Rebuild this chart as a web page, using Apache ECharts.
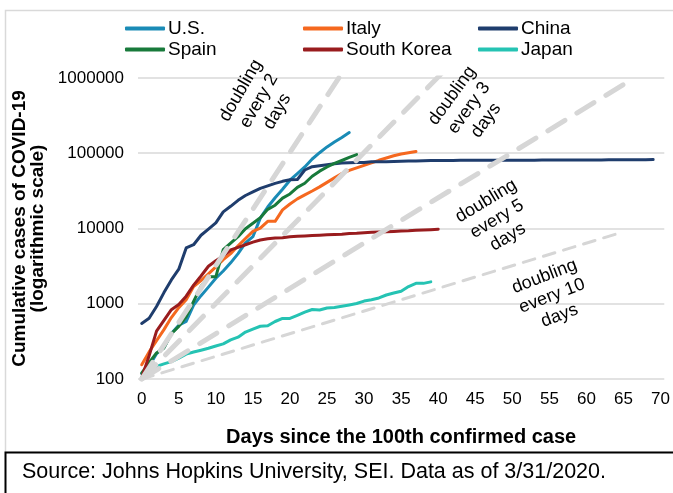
<!DOCTYPE html>
<html>
<head>
<meta charset="utf-8">
<script src="https://cdn.jsdelivr.net/npm/echarts@6/dist/echarts.min.js"></script>
<style>
  html, body { margin: 0; padding: 0; background: #ffffff; }
  #chart { width: 673px; height: 493px; }
</style>
</head>
<body>
<div id="chart"></div>
<script>
// ---- Data ----
const dayLabels = Array.from({ length: 71 }, (_, i) => String(i));

const usCases = [118,149,217,262,402,518,583,959,1281,1663,2179,2727,3499,4632,6421,7783,13747,19273,25600,33276,43847,53740,65778,83836,101657,121478,140886,161807,188172];
const italyCases = [155,229,322,453,655,888,1128,1694,2036,2502,3089,3858,4636,5883,7375,9172,10149,12462,12462,17660,21157,24747,27980,31506,35713,41035,47021,53578,59138,63927,69176,74386,80589,86498,92472,97689,101739,105792];
const chinaCases = [548,643,920,1406,2075,2877,5509,6087,8141,9802,11891,16630,19716,23707,27440,30587,34110,36814,39829,42354,44386,44759,59895,66358,68413,70513,72434,74211,74619,75077,75550,77001,77022,77241,77754,78166,78600,78928,79356,79932,80136,80261,80386,80537,80690,80770,80823,80860,80887,80921,80932,80945,80977,81003,81033,81058,81102,81156,81250,81305,81435,81498,81591,81661,81782,81897,81999,82122,82198,82279];
const spainCases = [120,165,222,259,400,500,673,1073,1695,2277,2277,5232,6391,7798,9942,11748,13910,17963,20410,25374,28768,35136,39885,49515,57786,65719,73235,80110,87956,95923];
const koreaCases = [104,204,433,602,833,977,1261,1766,2337,3150,3736,4335,5186,5621,6088,6593,7041,7314,7478,7513,7755,7869,7979,8086,8162,8236,8320,8413,8565,8652,8799,8897,8961,9037,9137,9241,9332,9478,9583,9661,9786];
const japanCases = [105,122,147,159,170,189,214,228,241,256,274,293,331,360,420,461,502,511,581,639,639,701,773,839,825,878,889,924,963,1007,1086,1128,1193,1307,1387,1468,1693,1866,1866,1953];

// Reference "doubling" guide lines: [day, cases] end points
const doubling2 = [[0, 100], [28, 1638400]];
const doubling3 = [[0, 100], [42, 1638400]];
const doubling5 = [[0, 100], [65, 819200]];
const doubling10 = [[0, 100], [65, 9051]];

const yTicks = [100, 1000, 10000, 100000, 1000000];
const seriesNames = ['U.S.', 'Italy', 'China', 'Spain', 'South Korea', 'Japan'];
const seriesColors = ['#1a8bb6', '#f5681f', '#1f3d6d', '#187a3b', '#991c1e', '#25c3b3'];
const seriesData = [usCases, italyCases, chinaCases, spainCases, koreaCases, japanCases];

const annotations = [
  { text: 'doubling\nevery 2\ndays', x: 259, y: 101, angle: 60 },
  { text: 'doubling\nevery 3\ndays', x: 469, y: 108, angle: 54 },
  { text: 'doubling\nevery 5\ndays', x: 497, y: 219, angle: 31 },
  { text: 'doubling\nevery 10\ndays', x: 552, y: 296, angle: 21 }
];

// ---- Chart ----
const chart = echarts.init(document.getElementById('chart'), null, { renderer: 'canvas' });
const FONT = 'Arial, "Liberation Sans", Helvetica, sans-serif';

const countrySeries = seriesNames.map((name, i) => ({
  name: name,
  type: 'line',
  data: seriesData[i],
  showSymbol: false,
  symbol: 'none',
  lineStyle: { color: seriesColors[i], width: 3, cap: 'round', join: 'round' },
  itemStyle: { color: seriesColors[i] },
  z: 2,
  silent: true,
  animation: false
}));

function guide(data, width, dash) {
  return {
    type: 'line',
    data: data,
    symbol: 'none',
    clip: true,
    lineStyle: { color: '#d6d6d6', width: width, type: dash, cap: 'round' },
    z: 3,
    silent: true,
    animation: false
  };
}

const legendBase = {
  orient: 'vertical',
  top: 19,
  itemWidth: 40,
  itemHeight: 4,
  itemGap: 2,
  icon: 'roundRect',
  padding: 0,
  textStyle: { fontSize: 19, color: '#000', fontFamily: FONT, padding: [0, 0, 0, -2] }
};

chart.setOption({
  animation: false,
  backgroundColor: '#ffffff',
  grid: { left: 138, right: 5, top: 78, bottom: 114 },
  legend: [
    Object.assign({}, legendBase, { left: 125, data: ['U.S.', 'Spain'] }),
    Object.assign({}, legendBase, { left: 303, data: ['Italy', 'South Korea'] }),
    Object.assign({}, legendBase, { left: 478, data: ['China', 'Japan'] })
  ],
  xAxis: {
    type: 'category',
    data: dayLabels,
    boundaryGap: true,
    axisLine: { show: false },
    axisTick: { show: false },
    axisLabel: { interval: 4, fontSize: 17, color: '#000', fontFamily: FONT, margin: 12 },
    splitLine: { show: false },
    name: 'Days since the 100th confirmed case',
    nameLocation: 'middle',
    nameGap: 48,
    nameTextStyle: { fontSize: 20, fontWeight: 'bold', color: '#000', fontFamily: FONT }
  },
  yAxis: {
    type: 'log',
    logBase: 10,
    min: yTicks[0],
    max: yTicks[yTicks.length - 1],
    axisLine: { show: false },
    axisTick: { show: false },
    axisLabel: { fontSize: 17, color: '#000', fontFamily: FONT, margin: 14, formatter: v => String(Math.round(v)) },
    splitLine: { show: true, lineStyle: { color: '#d9d9d9', width: 1.5 } },
    name: 'Cumulative cases of COVID-19\n(logarithmic scale)',
    nameLocation: 'middle',
    nameRotate: 90,
    nameGap: 90,
    nameTextStyle: { fontSize: 19, fontWeight: 'bold', color: '#000', fontFamily: FONT, lineHeight: 18 }
  },
  series: countrySeries.concat([
    guide(doubling2, 5, [20, 14]),
    guide(doubling3, 5, [20, 14]),
    guide(doubling5, 5, [20, 14]),
    guide(doubling10, 3, [12, 9])
  ]),
  graphic: [
    { type: 'rect', shape: { x: 5.5, y: 10.5, width: 680, height: 442 }, style: { fill: 'none', stroke: '#d9d9d9', lineWidth: 1.5 }, silent: true, z: -1 },
    { type: 'rect', shape: { x: 5.5, y: 452.5, width: 680, height: 50 }, style: { fill: '#fff', stroke: '#000', lineWidth: 2 }, silent: true, z: 0 },
    { type: 'text', x: 22, y: 472, style: { text: 'Source: Johns Hopkins University, SEI. Data as of 3/31/2020.', font: '21.5px ' + FONT, fill: '#000', textVerticalAlign: 'middle' }, silent: true, z: 1 }
  ].concat(annotations.map(a => ({
    type: 'text',
    x: a.x,
    y: a.y,
    rotation: a.angle * Math.PI / 180,
    style: { text: a.text, font: '18px ' + FONT, fill: '#000', textAlign: 'center', textVerticalAlign: 'middle', lineHeight: 21 },
    silent: true,
    z: 10
  })))
});
</script>
</body>
</html>
